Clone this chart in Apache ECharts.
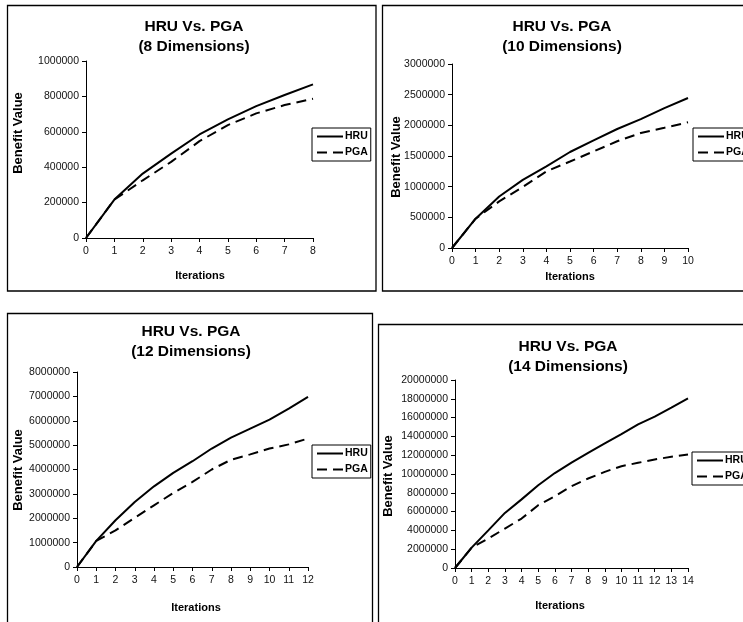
<!DOCTYPE html>
<html>
<head>
<meta charset="utf-8">
<script src="https://cdn.jsdelivr.net/npm/echarts@6/dist/echarts.min.js"></script>
<style>
html,body{margin:0;padding:0;background:#fff;}
#chart{width:743px;height:622px;}
</style>
</head>
<body>
<div id="chart"></div>
<script>
// ---- data ----
const seriesNames = ['HRU', 'PGA'];
const dims = [8, 10, 12, 14];
const hru8  = [0, 217000, 364000, 477000, 585000, 670000, 745000, 808000, 868000];
const pga8  = [0, 217000, 326000, 430000, 547000, 638000, 704000, 751000, 787000];
const hru10 = [0, 478000, 840000, 1110000, 1330000, 1565000, 1755000, 1940000, 2100000, 2280000, 2445000];
const pga10 = [0, 478000, 760000, 995000, 1250000, 1410000, 1575000, 1740000, 1875000, 1960000, 2050000];
const hru12 = [0, 1070000, 1920000, 2670000, 3310000, 3860000, 4340000, 4860000, 5310000, 5680000, 6050000, 6500000, 6980000];
const pga12 = [0, 1070000, 1500000, 2020000, 2530000, 3040000, 3490000, 4000000, 4400000, 4620000, 4860000, 5030000, 5270000];
const hru14 = [0, 2170000, 4000000, 5860000, 7300000, 8800000, 10100000, 11200000, 12250000, 13250000, 14250000, 15270000, 16100000, 17050000, 18050000];
const pga14 = [0, 2170000, 3130000, 4200000, 5260000, 6680000, 7640000, 8700000, 9520000, 10230000, 10830000, 11190000, 11550000, 11830000, 12080000];
const yMaxes = [1000000, 3000000, 8000000, 20000000];
const yIntervals = [200000, 500000, 1000000, 2000000];
const titleMain = 'HRU Vs. PGA';
const xAxisTitle = 'Iterations';
const yAxisTitle = 'Benefit Value';
const hruAll = [hru8, hru10, hru12, hru14];
const pgaAll = [pga8, pga10, pga12, pga14];

// ---- layout (pixels) ----
const panels = [
  {box:[7.5,5.5,368.5,285.5], grid:{left:86,top:61,width:227,height:177}, title:{x:194,y:17}, xName:{x:200,y:276}, yName:{x:18,y:133}, legend:{left:312,top:128}},
  {box:[382.5,5.5,380,285.5], grid:{left:452,top:64,width:236,height:184}, title:{x:562,y:17}, xName:{x:570,y:277}, yName:{x:396,y:157}, legend:{left:693,top:128}},
  {box:[7.5,313.5,365,320], grid:{left:77,top:372,width:231,height:195}, title:{x:191,y:322}, xName:{x:196,y:608}, yName:{x:18,y:470}, legend:{left:312,top:445}},
  {box:[378.5,324.5,380,320], grid:{left:455,top:380,width:233,height:188}, title:{x:568,y:337}, xName:{x:560,y:606}, yName:{x:388,y:476}, legend:{left:692,top:452}}
];

const FONT = 'Arial, "Liberation Sans", Helvetica, sans-serif';
const toPairs = arr => arr.map((v, i) => [i, v]);

const option = {
  animation: false,
  backgroundColor: '#fff',
  title: [], grid: [], xAxis: [], yAxis: [], legend: [], series: [], graphic: []
};

panels.forEach((p, i) => {
  option.graphic.push({
    type: 'rect', silent: true, z: -1,
    shape: {x: p.box[0], y: p.box[1], width: p.box[2], height: p.box[3]},
    style: {fill: 'none', stroke: '#000', lineWidth: 1.3}
  });
  option.title.push({
    text: titleMain + '\n(' + dims[i] + ' Dimensions)',
    left: p.title.x, top: p.title.y, padding: 0,
    textAlign: 'center',
    textStyle: {fontFamily: FONT, fontSize: 15.5, fontWeight: 'bold', color: '#000', lineHeight: 20}
  });
  option.grid.push({left: p.grid.left, top: p.grid.top, width: p.grid.width, height: p.grid.height, containLabel: false});
  option.xAxis.push({
    type: 'value', gridIndex: i, min: 0, max: dims[i], interval: 1,
    axisLine: {lineStyle: {color: '#000', width: 1}},
    axisTick: {show: true, length: 4, lineStyle: {color: '#000'}},
    axisLabel: {color: '#111', fontFamily: FONT, fontSize: 10.5, margin: 8},
    splitLine: {show: false}
  });
  option.yAxis.push({
    type: 'value', gridIndex: i, min: 0, max: yMaxes[i], interval: yIntervals[i],
    axisLine: {show: true, lineStyle: {color: '#000', width: 1}},
    axisTick: {show: true, length: 4, lineStyle: {color: '#000'}},
    axisLabel: {color: '#111', fontFamily: FONT, fontSize: 10.5, margin: 7, formatter: v => String(v)},
    splitLine: {show: false}
  });
  option.legend.push({
    data: seriesNames, orient: 'vertical', left: p.legend.left, top: p.legend.top,
    itemWidth: 26, itemHeight: 11, itemGap: 5, padding: [3, 3, 3, 4],
    borderColor: '#000', borderWidth: 1, backgroundColor: '#fff',
    itemStyle: {opacity: 0, borderWidth: 0},
    textStyle: {fontFamily: FONT, fontSize: 10.5, fontWeight: 'bold', color: '#000', padding: [0, 0, 0, -3]},
    selectedMode: false
  });
  option.series.push({
    name: 'HRU', type: 'line', xAxisIndex: i, yAxisIndex: i, data: toPairs(hruAll[i]),
    symbol: 'none', showSymbol: false, z: 3,
    lineStyle: {color: '#000', width: 2, type: 'solid'}, itemStyle: {color: '#000'}
  });
  option.series.push({
    name: 'PGA', type: 'line', xAxisIndex: i, yAxisIndex: i, data: toPairs(pgaAll[i]),
    symbol: 'none', showSymbol: false, z: 2,
    lineStyle: {color: '#000', width: 2, type: [10, 6]}, itemStyle: {color: '#000'}
  });
  option.graphic.push({
    type: 'text', silent: true, x: p.xName.x, y: p.xName.y,
    style: {text: xAxisTitle, font: 'bold 11px ' + FONT, fill: '#000', textAlign: 'center', textVerticalAlign: 'middle'}
  });
  option.graphic.push({
    type: 'text', silent: true, x: p.yName.x, y: p.yName.y, rotation: Math.PI / 2,
    style: {text: yAxisTitle, font: 'bold 13px ' + FONT, fill: '#000', textAlign: 'center', textVerticalAlign: 'middle'}
  });
});

const chart = echarts.init(document.getElementById('chart'), null, {renderer: 'canvas'});
chart.setOption(option);
</script>
</body>
</html>
